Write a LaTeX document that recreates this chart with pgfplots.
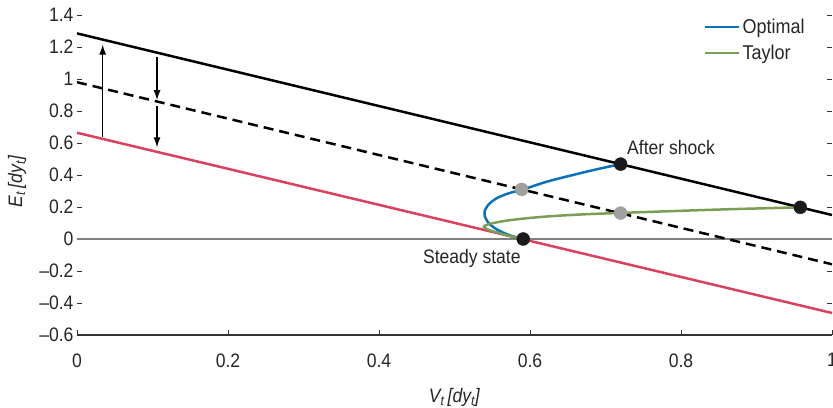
\documentclass[border=0pt]{standalone}
\usepackage{fontspec}
\setmainfont{Liberation Sans}[FakeStretch=0.9]
\usepackage{pgfplots}
\pgfplotsset{compat=1.18}
\usetikzlibrary{arrows.meta}
\definecolor{cblue}{HTML}{0A72BA}
\definecolor{cgreen}{HTML}{7A9E55}
\definecolor{cred}{HTML}{D9415F}
\definecolor{cgray}{HTML}{A0A0A0}
\definecolor{cdark}{HTML}{1A1A1A}
\begin{document}
\begin{tikzpicture}
\begin{axis}[name=ax, at={(0,0)}, anchor=south west,
  scale only axis, width=755bp, height=320bp,
  xmin=0, xmax=1, ymin=-0.6, ymax=1.4,
  axis x line*=bottom, axis y line*=box,
  y axis line style={draw=none},
  x axis line style={line width=1.1bp, color=black!80},
  tick align=inside, major tick length=5bp,
  every tick/.style={black!80, line width=0.9bp},
  yticklabel pos=left,
  xtick={0,0.2,0.4,0.6,0.8,1},
  xticklabels={0,0.2,0.4,0.6,0.8,1},
  ytick={-0.6,-0.4,-0.2,0,0.2,0.4,0.6,0.8,1,1.2,1.4},
  yticklabels={–0.6,–0.4,–0.2,0,0.2,0.4,0.6,0.8,1,1.2,1.4},
  tick label style={font=\fontsize{19.5bp}{22bp}\selectfont, text=black!85},
  xticklabel style={yshift=-15bp},
  xlabel={\textit{V\textsubscript{t}\,[dy\textsubscript{t}]}},
  ylabel={\textit{E\textsubscript{t}\,[dy\textsubscript{t}]}},
  label style={font=\fontsize{19.5bp}{22bp}\selectfont, text=black!85},
  xlabel style={at={(axis description cs:0.5,0)}, anchor=base, yshift=-67bp},
  ylabel style={at={(axis description cs:-0.0728,0.48)}, anchor=base, rotate=0},
  legend style={draw=none, fill=none, at={(axis description cs:0.8265,1.0)}, anchor=north west,
    font=\fontsize{20bp}{22bp}\selectfont, text=black!85, row sep=6bp},
  legend cell align=left,
  legend image code/.code={\draw[#1, line width=2.5bp] (0bp,0bp) -- (34bp,0bp);},
]
\coordinate (BL) at (rel axis cs:0,0);
\coordinate (TR) at (rel axis cs:1,1);
% zero line
\addplot[forget plot, color=gray, line width=1.1bp] coordinates {(0,0) (1,0)};
% red line (steady state)
\addplot[forget plot, color=cred, line width=2.5bp] coordinates {(0,0.664) (1,-0.4625)};
% dashed line
\addplot[forget plot, color=black, line width=2.5bp, dash pattern=on 10bp off 6bp] coordinates {(0,0.98) (1,-0.158)};
% black line (after shock)
\addplot[forget plot, color=black, line width=2.5bp] coordinates {(0,1.285) (1,0.15)};
% Optimal path
\addplot[color=cblue, line width=2.5bp, smooth] coordinates {
 (0.591,0.0) (0.572,0.025) (0.556,0.06) (0.545,0.10) (0.540,0.145) (0.540,0.175)
 (0.545,0.215) (0.556,0.255) (0.572,0.286) (0.591,0.31) (0.62,0.355) (0.65,0.392)
 (0.685,0.432) (0.72,0.468)};
\addlegendentry{Optimal}
% Taylor path
\addplot[color=cgreen, line width=2.5bp, smooth] coordinates {
 (0.591,0) (0.575,0.017) (0.558,0.038) (0.545,0.058) (0.539,0.075) (0.541,0.085)
 (0.549,0.097) (0.565,0.112) (0.59,0.127) (0.626,0.142) (0.675,0.155) (0.72,0.163)
 (0.78,0.173) (0.85,0.184) (0.91,0.192) (0.958,0.198)};
\addlegendentry{Taylor}
% points
\addplot[forget plot, only marks, mark=*, mark size=6.5bp, color=cdark] coordinates {(0.591,0) (0.72,0.468) (0.958,0.198)};
\addplot[forget plot, only marks, mark=*, mark size=6.5bp, color=cgray] coordinates {(0.589,0.31) (0.72,0.162)};
% arrows
\addplot[forget plot, color=black, line width=1.2bp, -{Latex[length=10bp,width=7bp]}] coordinates {(0.034,0.64) (0.034,1.215)};
\addplot[forget plot, color=black, line width=1.2bp, -{Latex[length=10bp,width=7bp]}] coordinates {(0.106,1.14) (0.106,0.868)};
\addplot[forget plot, color=black, line width=1.2bp, -{Latex[length=10bp,width=7bp]}] coordinates {(0.106,0.83) (0.106,0.573)};
% labels
\node[anchor=west, font=\fontsize{19.5bp}{22bp}\selectfont, text=black!85, inner sep=0pt] at (axis cs:0.7285,0.569) {After shock};
\node[anchor=center, font=\fontsize{19.5bp}{22bp}\selectfont, text=black!85, inner sep=0pt] at (axis cs:0.523,-0.119) {Steady state};
\end{axis}
\pgfresetboundingbox
\path ([shift={(-77bp,-73bp)}]BL) rectangle ([shift={(1bp,15bp)}]TR);
\end{tikzpicture}
\end{document}
